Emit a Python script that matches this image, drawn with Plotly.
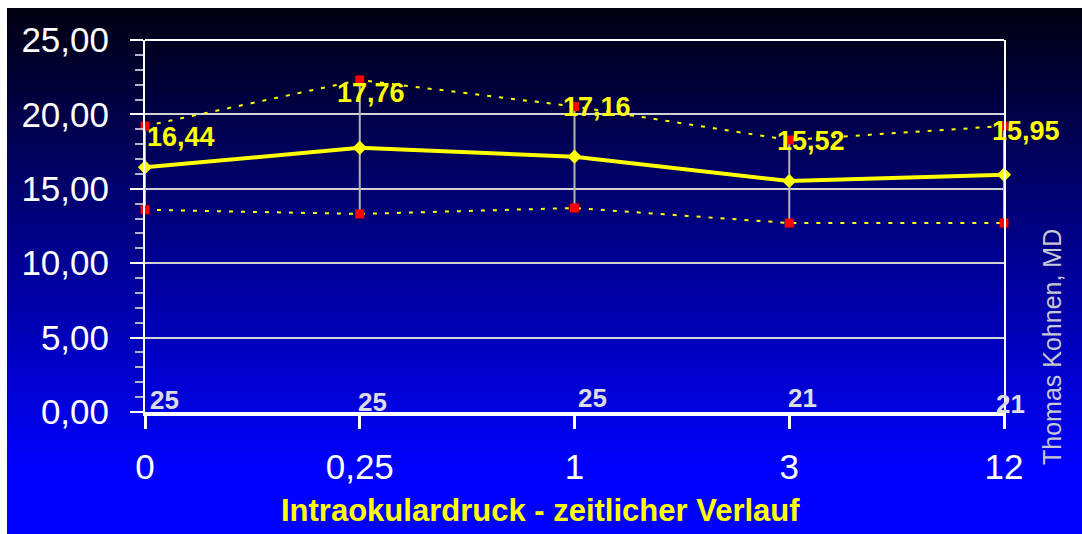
import plotly.graph_objects as go

# Time points (months) and measured intraocular pressure
time_labels = ["0", "0,25", "1", "3", "12"]
mean_iop = [16.44, 17.76, 17.16, 15.52, 15.95]
upper_sd = [19.22, 22.31, 20.53, 18.28, 19.22]
lower_sd = [13.59, 13.31, 13.71, 12.70, 12.70]
n_eyes = [25, 25, 25, 21, 21]
y_ticks = [0, 5, 10, 15, 20, 25]

# Canvas and plot-area geometry (pixels)
W, H = 1082, 534
L, R, T, B = 145, 1004, 40, 412

def px_x(x):
    return (x - L) / (R - L)

def px_y(y):
    return (B - y) / (B - T)

def fmt(v):
    return f"{v:.2f}".replace(".", ",")

FONT = "Arial, Liberation Sans, sans-serif"
YELLOW = "#ffff00"

idx = list(range(len(time_labels)))

fig = go.Figure()

# Standard deviation bars (gray, no caps)
fig.add_trace(go.Scatter(
    x=idx, y=mean_iop, mode="markers",
    marker=dict(size=1, opacity=0),
    error_y=dict(type="data", symmetric=False,
                 array=[u - m for u, m in zip(upper_sd, mean_iop)],
                 arrayminus=[m - l for m, l in zip(mean_iop, lower_sd)],
                 color="#b4b4b4", thickness=2, width=0),
    hoverinfo="skip", showlegend=False, cliponaxis=False,
))

# Upper and lower SD envelopes
for band in (upper_sd, lower_sd):
    fig.add_trace(go.Scatter(
        x=idx, y=band, mode="lines+markers",
        line=dict(color=YELLOW, width=2, dash="4px,8px"),
        marker=dict(symbol="square", size=9, color="#ff0000"),
        showlegend=False, cliponaxis=False,
    ))

# Mean curve
fig.add_trace(go.Scatter(
    x=idx, y=mean_iop, mode="lines+markers",
    line=dict(color=YELLOW, width=4),
    marker=dict(symbol="diamond", size=11, color=YELLOW),
    showlegend=False, cliponaxis=False,
))

# Vertical gradient background (dark at top, bright blue at bottom)
shapes = []
top_px, bottom_px = 8, H
g0, g1, g_end = 16, 255, 470
step = 3
y = top_px
while y < bottom_px:
    yc = y + step / 2
    t = min(max((yc - top_px) / (g_end - top_px), 0), 1)
    b = int(round(g0 + (g1 - g0) * t))
    shapes.append(dict(
        type="rect", xref="paper", yref="paper", layer="below",
        x0=px_x(7), x1=px_x(W + 2),
        y0=px_y(min(y + step + 0.5, bottom_px + 2)), y1=px_y(y),
        fillcolor=f"rgb(0,0,{b})", line=dict(width=0),
    ))
    y += step

# Top frame line
shapes.append(dict(type="line", xref="paper", yref="paper", layer="above",
                   x0=0, x1=1, y0=1, y1=1,
                   line=dict(color="white", width=2)))

annotations = []

# Mean value labels
label_dx = [36, 11, 22, 22, 22]
label_dy = [30, 55, 50, 40, 44]
for i, m in enumerate(mean_iop):
    annotations.append(dict(
        x=i, y=m, xref="x", yref="y", text=f"<b>{fmt(m)}</b>",
        showarrow=False, xshift=label_dx[i], yshift=label_dy[i],
        font=dict(family=FONT, size=27, color=YELLOW),
        xanchor="center", yanchor="middle",
    ))

# Number of eyes per time point
n_dx = [19, 13, 18, 13, 6]
n_dy = [12, 10, 14, 14, 8]
for i, n in enumerate(n_eyes):
    annotations.append(dict(
        x=i, y=0, xref="x", yref="y", text=f"<b>{n}</b>",
        showarrow=False, xshift=n_dx[i], yshift=n_dy[i],
        font=dict(family=FONT, size=26, color="#dcdce4"),
        xanchor="center", yanchor="middle",
    ))

# Axis caption
annotations.append(dict(
    x=px_x(540), y=px_y(510), xref="paper", yref="paper",
    text="<b>Intraokulardruck - zeitlicher Verlauf</b>",
    showarrow=False, xanchor="center", yanchor="middle",
    font=dict(family=FONT, size=31, color=YELLOW),
))

# Author credit
annotations.append(dict(
    x=px_x(1052), y=px_y(347), xref="paper", yref="paper",
    text="Thomas Kohnen, MD", textangle=-90,
    showarrow=False, xanchor="center", yanchor="middle",
    font=dict(family=FONT, size=25, color="#c8c8d4"),
))

fig.update_layout(
    width=W, height=H,
    margin=dict(l=L, r=W - R, t=T, b=H - B, pad=0),
    paper_bgcolor="white", plot_bgcolor="rgba(0,0,0,0)",
    separators=",.",
    shapes=shapes, annotations=annotations,
    xaxis=dict(
        tickmode="array", tickvals=idx, ticktext=time_labels,
        range=[0, len(idx) - 1], showgrid=False, zeroline=False,
        showline=True, linecolor="white", linewidth=4,
        ticks="outside", ticklen=13, tickwidth=3, tickcolor="white",
        tickfont=dict(family=FONT, size=35, color="white"),
        ticklabelstandoff=8,
    ),
    yaxis=dict(
        range=[0, 25], tickmode="array", tickvals=y_ticks,
        ticktext=[fmt(v) for v in y_ticks],
        showgrid=True, gridcolor="#d2d2d8", gridwidth=2,
        zeroline=False, showline=True, mirror=True,
        linecolor="white", linewidth=2,
        ticks="outside", ticklen=13, tickwidth=2, tickcolor="white",
        minor=dict(dtick=1, ticks="outside", ticklen=8, tickwidth=1.5,
                   tickcolor="#b4b4c8", showgrid=False),
        tickfont=dict(family=FONT, size=35, color="white"),
        ticklabelstandoff=14,
    ),
)

fig.write_html("out.html")
